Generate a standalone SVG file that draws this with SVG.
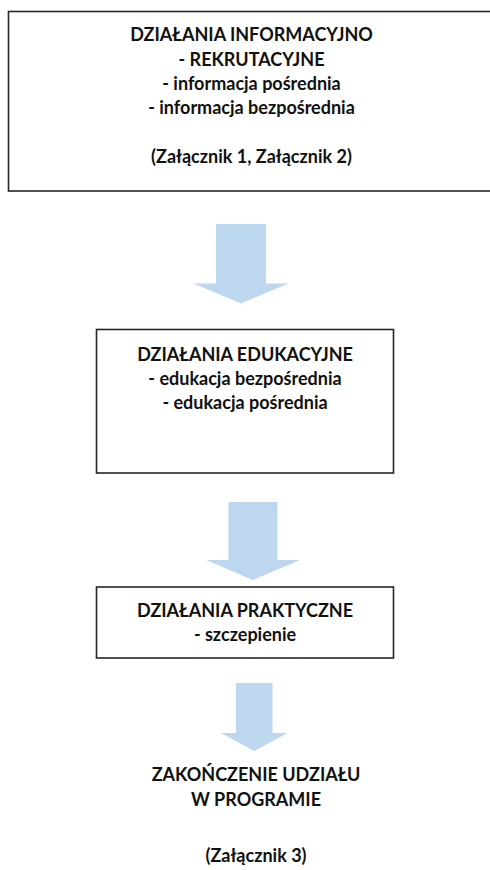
<svg xmlns="http://www.w3.org/2000/svg" width="490" height="870" viewBox="0 0 490 870">
<style>
.box{fill:#fff;stroke:#262626;stroke-width:1.6}
.t{font-family:Lato,"Liberation Sans",sans-serif;font-weight:bold;font-size:18px;fill:#111;text-anchor:middle}
.arrow{fill:#BDD7EE}
</style>
<rect width="490" height="870" fill="#fff"/>
<g id="connectors">
<polygon class="arrow" points="216,224 266,224 266,283.5 288.5,283.5 241,303.5 193.5,283.5 216,283.5"/>
<polygon class="arrow" points="228.5,502 277.5,502 277.5,560 300,560 253,580 206,560 228.5,560"/>
<polygon class="arrow" points="236,683 272.5,683 272.5,733 287.5,733 254.2,751 221,733 236,733"/>
</g>
<g id="node1">
<rect class="box" x="8.5" y="11.5" width="490" height="179.5"/>
<text class="t" x="251.5" y="41">DZIAŁANIA INFORMACYJNO</text>
<text class="t" x="251.5" y="66">- REKRUTACYJNE</text>
<text class="t" x="251.5" y="90">- informacja pośrednia</text>
<text class="t" x="251.5" y="114">- informacja bezpośrednia</text>
<text class="t" x="251.5" y="163">(Załącznik 1, Załącznik 2)</text>
</g>
<g id="node2">
<rect class="box" x="96.5" y="329.5" width="297" height="143.5"/>
<text class="t" x="245" y="361">DZIAŁANIA EDUKACYJNE</text>
<text class="t" x="245" y="385">- edukacja bezpośrednia</text>
<text class="t" x="245" y="409">- edukacja pośrednia</text>
</g>
<g id="node3">
<rect class="box" x="96.5" y="587" width="297" height="71"/>
<text class="t" x="245" y="617">DZIAŁANIA PRAKTYCZNE</text>
<text class="t" x="245" y="641">- szczepienie</text>
</g>
<g id="node4">
<text class="t" x="256" y="781">ZAKOŃCZENIE UDZIAŁU</text>
<text class="t" x="256" y="806">W PROGRAMIE</text>
<text class="t" x="256" y="862">(Załącznik 3)</text>
</g>
</svg>
